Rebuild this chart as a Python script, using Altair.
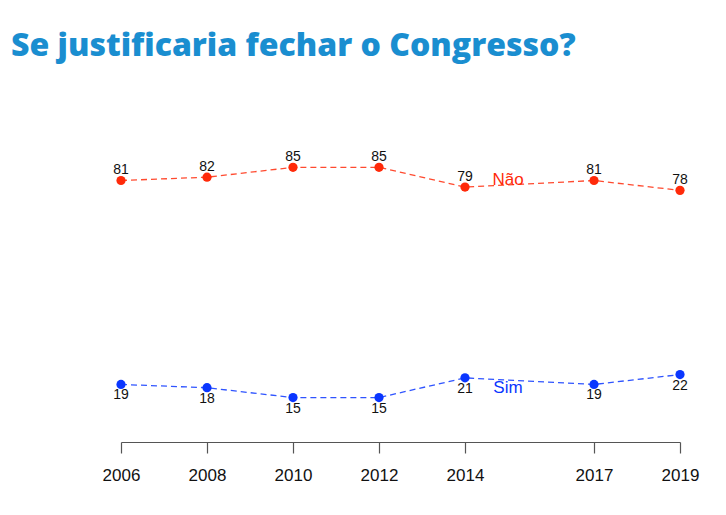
import altair as alt
import pandas as pd

years = [2006, 2008, 2010, 2012, 2014, 2017, 2019]
nao = [81, 82, 85, 85, 79, 81, 78]
sim = [19, 18, 15, 15, 21, 19, 22]
series_names = ["Não", "Sim"]
series_colors = ["#ff2a0a", "#0a36ff"]
label_year = [2015, 2015]
label_value = [81, 18]

rows = []
for y, n, s in zip(years, nao, sim):
    rows.append({"ano": y, "valor": n, "serie": "Não"})
    rows.append({"ano": y, "valor": s, "serie": "Sim"})
df = pd.DataFrame(rows)
lab = pd.DataFrame({"ano": label_year, "valor": label_value, "serie": series_names})

xs = alt.Scale(domain=[2006, 2019], nice=False, zero=False)
ys = alt.Scale(domain=[1.5, 100], nice=False, zero=False)
cs = alt.Scale(domain=series_names, range=series_colors)

x = alt.X("ano:Q", scale=xs,
          axis=alt.Axis(values=years, format="d", title=None, grid=False,
                        domainColor="#555555", tickColor="#555555",
                        tickSize=11, labelFontSize=17, labelPadding=14,
                        labelColor="#111111", labelFont="Liberation Sans",
                        labelFlush=False, labelOverlap=False,
                        domainWidth=1.2, tickWidth=1.2))
y = alt.Y("valor:Q", scale=ys, axis=None)

base = alt.Chart(df).encode(x=x, y=y,
                            color=alt.Color("serie:N", scale=cs, legend=None))

lines = base.mark_line(strokeDash=[6, 4], strokeWidth=1.3, opacity=0.85)
points = base.mark_circle(size=85, opacity=1)

txt_nao = alt.Chart(df).transform_filter(alt.datum.serie == "Não").mark_text(
    dy=-10, fontSize=14, font="Liberation Sans", color="#111111"
).encode(x=x, y=y, text="valor:Q")
txt_sim = alt.Chart(df).transform_filter(alt.datum.serie == "Sim").mark_text(
    dy=11, fontSize=14, font="Liberation Sans", color="#111111"
).encode(x=x, y=y, text="valor:Q")

serie_lab = alt.Chart(lab).mark_text(fontSize=17, font="Liberation Sans").encode(
    x=x, y=y, text="serie:N",
    color=alt.Color("serie:N", scale=cs, legend=None))

chart = alt.layer(lines, points, txt_nao, txt_sim, serie_lab).properties(
    width=559, height=324,
    padding={"left": 3, "top": 22, "right": 10, "bottom": 10},
    background="white",
    title=alt.TitleParams(
        "Se justificaria fechar o Congresso?",
        anchor="start", frame="group", dx=-110, offset=55,
        font="Open Sans", fontSize=32, fontWeight=900, color="#1a8ed0"),
).configure_view(stroke=None)

chart.save("out.html", embed_options={"renderer": "svg", "actions": False})
